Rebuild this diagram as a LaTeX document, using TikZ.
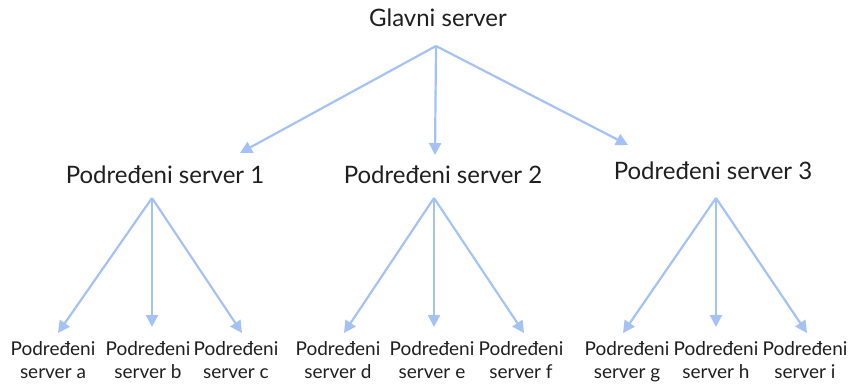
\documentclass[tikz,border=0pt]{standalone}
\usepackage{fontspec}
\setmainfont{Lato}
\usetikzlibrary{arrows.meta}
\definecolor{linkblue}{HTML}{A4C2F4}
\tikzset{
  link/.style={-{Triangle[length=12pt,width=12pt]},line width=2.2pt,color=linkblue},
  server/.style={font=\fontsize{24}{28}\selectfont,text=black!88},
  leaf/.style={font=\fontsize{19}{23}\selectfont,align=center,text=black!88,inner sep=0pt,anchor=north},
}
\begin{document}
\begin{tikzpicture}[x=1pt,y=-1pt]
  \useasboundingbox (0,0) rectangle (850,387);

  % main and sub servers
  \node[server] (glavni) at (438,18) {Glavni server};
  \node[server] (pod1) at (165,175) {Podređeni server 1};
  \node[server] (pod2) at (443,175) {Podređeni server 2};
  \node[server] (pod3) at (713,171) {Podređeni server 3};

  % leaves
  \foreach \c/\x in {a/53,b/148,c/236,d/338,e/432,f/521,g/627,h/716,i/805}
    \node[leaf] (\c) at (\x,341) {Podređeni\\server \c};

  % fork points and arrow tips
  \coordinate (glavni-out) at (436,46);
  \coordinate (pod1-in) at (240,153);
  \coordinate (pod2-in) at (435,155);
  \coordinate (pod3-in) at (628,145);
  \coordinate (pod1-out) at (152,198);
  \coordinate (pod2-out) at (434,198);
  \coordinate (pod3-out) at (716,198);
  \foreach \c/\x/\y in {a/58/333,b/152/327,c/242/333,d/344/333,e/434/327,f/524/333,g/623/333,h/716/327,i/807/333}
    \coordinate (\c-in) at (\x,\y);

  \foreach \n in {1,2,3}
    \draw[link] (glavni-out) -- (pod\n-in);
  \foreach \p/\c in {1/a,1/b,1/c,2/d,2/e,2/f,3/g,3/h,3/i}
    \draw[link] (pod\p-out) -- (\c-in);
\end{tikzpicture}
\end{document}
